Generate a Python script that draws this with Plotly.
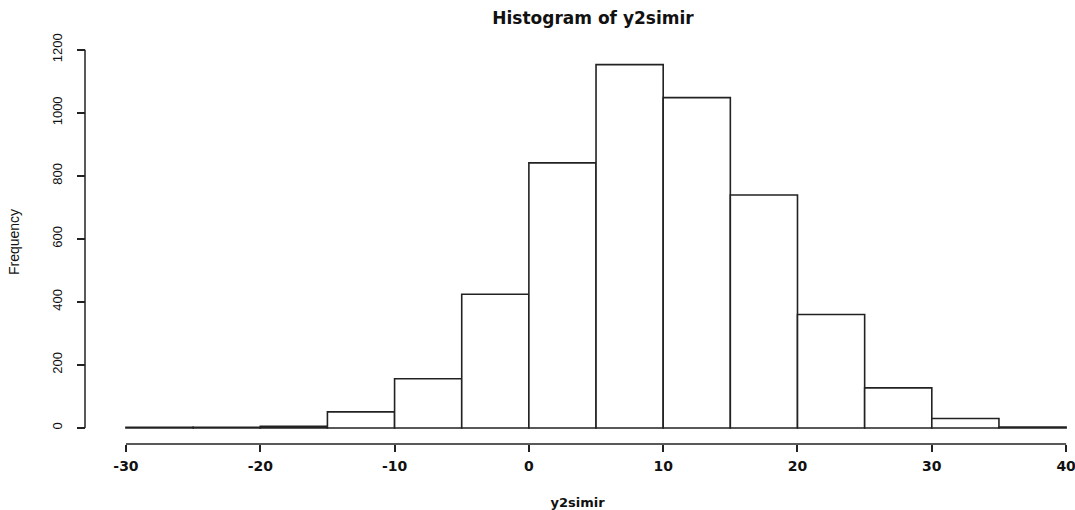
import plotly.graph_objects as go

bin_left = [-30, -25, -20, -15, -10, -5, 0, 5, 10, 15, 20, 25, 30, 35]
counts = [2, 2, 5, 51, 156, 424, 841, 1153, 1048, 739, 360, 127, 30, 3]
bin_width = 5
x_ticks = [-30, -20, -10, 0, 10, 20, 30, 40]
x_tick_text = ["-30", "-20", "-10", "0", "10", "20", "30", "40"]
y_ticks = [0, 200, 400, 600, 800, 1000, 1200]

centers = [b + bin_width / 2 for b in bin_left]

fig = go.Figure()
fig.add_trace(go.Bar(
    x=centers, y=counts, width=bin_width,
    marker=dict(color="white", line=dict(color="#222222", width=1.6)),
    showlegend=False, hoverinfo="x+y",
))

sans = "Liberation Sans, Arial, sans-serif"
wide = "DejaVu Sans, sans-serif"

fig.update_layout(
    width=1075, height=510,
    margin=dict(l=85, r=5, t=40, b=66),
    paper_bgcolor="white", plot_bgcolor="white",
    title=dict(text="<b>Histogram of y2simir</b>", x=593/1075, xanchor="center",
               y=1 - 18/510, yanchor="middle",
               font=dict(family=wide, size=17, color="#111111")),
    xaxis=dict(range=[-33.05, 40.29], tickvals=x_ticks, ticktext=x_tick_text,
               ticks="outside", ticklen=7, ticklabeloverflow="allow", automargin=False,
               tickcolor="#222222", tickwidth=1.5, showgrid=False, zeroline=False,
               showline=False, anchor="free", position=0, ticklabelstandoff=2,
               tickfont=dict(family=wide, size=14, color="#111111", weight="bold"),
               title=dict(text="<b>y2simir</b>", standoff=27,
                          font=dict(family=wide, size=13, color="#111111"))),
    yaxis=dict(range=[-51, 1231], tickvals=y_ticks, ticks="outside", ticklen=8,
               tickcolor="#222222", tickwidth=1.5, showgrid=False, zeroline=False,
               showline=False, anchor="free", position=0, tickangle=-90,
               ticklabelstandoff=10,
               tickfont=dict(family=sans, size=13, color="#111111"),
               title=dict(text="Frequency", standoff=25,
                          font=dict(family=sans, size=14, color="#111111"))),
)

fig.add_shape(type="line", xref="x", yref="paper", x0=x_ticks[0], x1=x_ticks[-1], y0=0, y1=0,
              line=dict(color="#222222", width=1.5))
fig.add_shape(type="line", xref="paper", yref="y", x0=0, x1=0, y0=y_ticks[0], y1=y_ticks[-1],
              line=dict(color="#222222", width=1.5))

fig.write_html("out.html")
